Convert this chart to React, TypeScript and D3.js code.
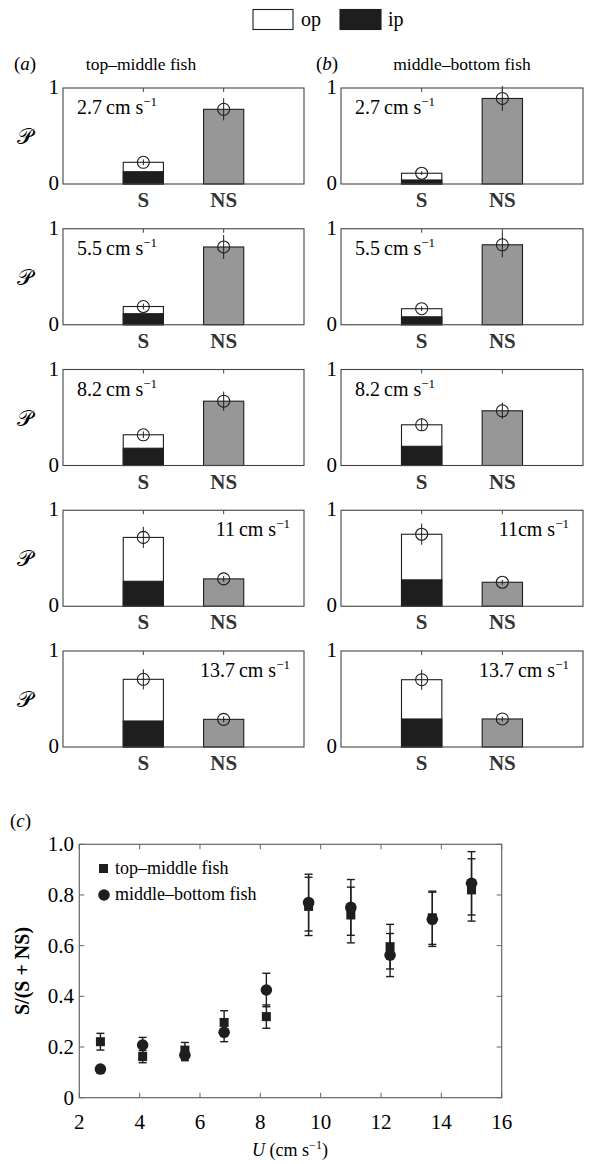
import React from "react";
import * as d3 from "d3";

// ---------- Data ----------
const speedsA = ["2.7", "5.5", "8.2", "11", "13.7"];
const speedsB = ["2.7", "5.5", "8.2", "11", "13.7"];
const barCats = ["S", "NS"];

// top–middle fish (a)
const aS = [0.226, 0.19, 0.32, 0.717, 0.705];
const aIp = [0.128, 0.115, 0.18, 0.26, 0.271];
const aNS = [0.778, 0.81, 0.67, 0.285, 0.288];
const aSErr = [0.03, 0.03, 0.035, 0.11, 0.105];
const aNSErr = [0.115, 0.125, 0.1, 0.03, 0.03];

// middle–bottom fish (b)
const bS = [0.112, 0.167, 0.424, 0.75, 0.701];
const bIp = [0.042, 0.083, 0.2, 0.275, 0.292];
const bNS = [0.891, 0.833, 0.57, 0.25, 0.292];
const bSErr = [0.02, 0.025, 0.065, 0.11, 0.105];
const bNSErr = [0.13, 0.13, 0.085, 0.025, 0.025];

// (c) scatter
const uTM = [2.7, 4.1, 5.5, 6.8, 8.2, 9.6, 11, 12.3, 13.7, 15];
const yTM = [0.221, 0.162, 0.188, 0.297, 0.32, 0.755, 0.721, 0.596, 0.71, 0.82];
const eTM = [0.033, 0.024, 0.03, 0.046, 0.046, 0.115, 0.11, 0.088, 0.105, 0.123];
const uMB = [2.7, 4.1, 5.5, 6.8, 8.2, 9.6, 11, 12.3, 13.7, 15];
const yMB = [0.113, 0.208, 0.168, 0.258, 0.425, 0.77, 0.751, 0.563, 0.704, 0.846];
const eMB = [0.0, 0.03, 0.022, 0.037, 0.066, 0.112, 0.11, 0.085, 0.107, 0.125];
const xTicksC = [2, 4, 6, 8, 10, 12, 14, 16];
const yTicksC = [0, 0.2, 0.4, 0.6, 0.8, 1.0];

const SERIF = "Liberation Serif, Times New Roman, serif";
const DARK = "#1e1e1e";
const GREY = "#979797";

type PanelProps = {
  left: number;
  top: number;
  width: number;
  height: number;
  speed: string;
  labelRight: boolean;
  s: number;
  ip: number;
  ns: number;
  sErr: number;
  nsErr: number;
  showP: boolean;
};

function Panel(p: PanelProps) {
  const x = d3.scaleLinear().domain([0, 3]).range([p.left, p.left + p.width]);
  const y = d3.scaleLinear().domain([0, 1]).range([p.top + p.height, p.top]);
  const bw = x(0.5) - x(0);
  const cx = [x(1), x(2)];
  const num = p.speed.split(" ")[0];
  const hasSpace = p.speed !== "11cm";
  return (
    <g>
      {/* S bar: white total, black ip */}
      <rect x={cx[0] - bw / 2} y={y(p.s)} width={bw} height={y(0) - y(p.s)} fill="#fff" stroke={DARK} strokeWidth={1.1} />
      <rect x={cx[0] - bw / 2} y={y(p.ip)} width={bw} height={y(0) - y(p.ip)} fill={DARK} stroke={DARK} strokeWidth={1.1} />
      {/* NS bar */}
      <rect x={cx[1] - bw / 2} y={y(p.ns)} width={bw} height={y(0) - y(p.ns)} fill={GREY} stroke={DARK} strokeWidth={1.1} />
      {/* error bars + circles */}
      {[
        [cx[0], p.s, p.sErr],
        [cx[1], p.ns, p.nsErr],
      ].map(([c, v, e], i) => (
        <g key={i}>
          <line x1={c} x2={c} y1={y(v + e)} y2={y(v - e)} stroke={DARK} strokeWidth={1} />
          <circle cx={c} cy={y(v)} r={6} fill="none" stroke={DARK} strokeWidth={1.1} />
        </g>
      ))}
      {/* frame */}
      <rect x={p.left} y={p.top} width={p.width} height={p.height} fill="none" stroke="#444" strokeWidth={1.1} />
      {/* top ticks */}
      {cx.map((c, i) => (
        <line key={i} x1={c} x2={c} y1={p.top} y2={p.top + 4} stroke="#444" strokeWidth={1} />
      ))}
      {/* y tick labels */}
      <text x={p.left - 4} y={y(1) + 6} textAnchor="end" fontFamily={SERIF} fontSize={21}>1</text>
      <text x={p.left - 4} y={y(0) + 6} textAnchor="end" fontFamily={SERIF} fontSize={21}>0</text>
      {/* category labels */}
      {barCats.map((c, i) => (
        <text key={c} x={cx[i]} y={y(0) + 23} textAnchor="middle" fontFamily={SERIF} fontWeight="bold" fontSize={21} fill="#333">
          {c}
        </text>
      ))}
      {/* speed label */}
      <text
        x={p.labelRight ? p.left + p.width - 14 : p.left + 14}
        y={p.top + 26}
        textAnchor={p.labelRight ? "end" : "start"}
        fontFamily={SERIF}
        fontSize={20}
      >
        {hasSpace ? num + "\u2009cm s" : "11cm s"}
        <tspan fontSize={13} dy={-8}>{"\u22121"}</tspan>
      </text>
      {p.showP && (
        <text x={17} y={p.top + p.height / 2 + 8} fontFamily="DejaVu Serif, serif" fontSize={22}>
          {"\u{1D4AB}"}
        </text>
      )}
    </g>
  );
}

export default function App() {
  const rowTop = (i: number) => 88 + i * 140.75;
  const ph = 96;

  const xc = d3.scaleLinear().domain([2, 16]).range([79.3, 501.7]);
  const yc = d3.scaleLinear().domain([0, 1]).range([1097.7, 844.3]);
  const capW = 4;

  return (
    <svg width={612} height={1164} style={{ display: "block", position: "absolute", left: 0, top: 0 }}>
      <rect x={0} y={0} width={612} height={1164} fill="#fff" />
      {/* top legend */}
      <rect x={253} y={9.5} width={40} height={20} fill="#fff" stroke={DARK} strokeWidth={1.1} />
      <text x={301} y={26} fontFamily={SERIF} fontSize={20}>op</text>
      <rect x={340} y={9.5} width={41} height={20} fill={DARK} stroke={DARK} strokeWidth={1.1} />
      <text x={388} y={26} fontFamily={SERIF} fontSize={20}>ip</text>

      {/* titles */}
      <text x={14} y={70} fontFamily={SERIF} fontSize={19}>
        (<tspan fontStyle="italic">a</tspan>)
      </text>
      <text x={141} y={70} textAnchor="middle" fontFamily={SERIF} fontSize={17.5}>top–middle fish</text>
      <text x={316} y={70} fontFamily={SERIF} fontSize={19}>
        (<tspan fontStyle="italic">b</tspan>)
      </text>
      <text x={462} y={70} textAnchor="middle" fontFamily={SERIF} fontSize={17.5}>middle–bottom fish</text>

      {speedsA.map((s, i) => (
        <Panel
          key={"a" + i}
          left={63}
          top={rowTop(i)}
          width={241}
          height={ph}
          speed={s}
          labelRight={i >= 3}
          s={aS[i]}
          ip={aIp[i]}
          ns={aNS[i]}
          sErr={aSErr[i]}
          nsErr={aNSErr[i]}
          showP={true}
        />
      ))}
      {speedsB.map((s, i) => (
        <Panel
          key={"b" + i}
          left={341}
          top={rowTop(i)}
          width={242}
          height={ph}
          speed={i === 3 ? "11cm" : s}
          labelRight={i >= 3}
          s={bS[i]}
          ip={bIp[i]}
          ns={bNS[i]}
          sErr={bSErr[i]}
          nsErr={bNSErr[i]}
          showP={false}
        />
      ))}

      {/* (c) */}
      <text x={10} y={827} fontFamily={SERIF} fontSize={19}>
        (<tspan fontStyle="italic">c</tspan>)
      </text>
      <rect x={xc(2)} y={yc(1)} width={xc(16) - xc(2)} height={yc(0) - yc(1)} fill="none" stroke="#666" strokeWidth={1.2} />
      {xTicksC.map((t) => (
        <g key={"xt" + t}>
          <line x1={xc(t)} x2={xc(t)} y1={yc(0)} y2={yc(0) - 5} stroke="#666" />
          <line x1={xc(t)} x2={xc(t)} y1={yc(1)} y2={yc(1) + 5} stroke="#666" />
          <text x={xc(t)} y={1129} textAnchor="middle" fontFamily={SERIF} fontSize={21}>{t}</text>
        </g>
      ))}
      {yTicksC.map((t) => (
        <g key={"yt" + t}>
          <line x1={xc(2)} x2={xc(2) + 5} y1={yc(t)} y2={yc(t)} stroke="#666" />
          <line x1={xc(16)} x2={xc(16) - 5} y1={yc(t)} y2={yc(t)} stroke="#666" />
          <text x={74} y={yc(t) + 7} textAnchor="end" fontFamily={SERIF} fontSize={21}>
            {t === 0 ? "0" : d3.format(".1f")(t)}
          </text>
        </g>
      ))}
      <text x={290} y={1156} textAnchor="middle" fontFamily={SERIF} fontSize={18}>
        <tspan fontStyle="italic">U</tspan>
        {" (cm s"}
        <tspan fontSize={12} dy={-7}>{"\u22121"}</tspan>
        <tspan dy={7}>)</tspan>
      </text>
      <text
        transform={`translate(29, 971) rotate(-90)`}
        textAnchor="middle"
        fontFamily={SERIF}
        fontWeight="bold"
        fontSize={20}
      >
        S/(S + NS)
      </text>

      {/* error bars */}
      {uTM.map((u, i) => (
        <g key={"etm" + i} stroke={DARK} strokeWidth={1.4}>
          <line x1={xc(u)} x2={xc(u)} y1={yc(yTM[i] + eTM[i])} y2={yc(yTM[i] - eTM[i])} />
          <line x1={xc(u) - capW} x2={xc(u) + capW} y1={yc(yTM[i] + eTM[i])} y2={yc(yTM[i] + eTM[i])} />
          <line x1={xc(u) - capW} x2={xc(u) + capW} y1={yc(yTM[i] - eTM[i])} y2={yc(yTM[i] - eTM[i])} />
        </g>
      ))}
      {uMB.map((u, i) =>
        eMB[i] > 0 ? (
          <g key={"emb" + i} stroke={DARK} strokeWidth={1.4}>
            <line x1={xc(u)} x2={xc(u)} y1={yc(yMB[i] + eMB[i])} y2={yc(yMB[i] - eMB[i])} />
            <line x1={xc(u) - capW} x2={xc(u) + capW} y1={yc(yMB[i] + eMB[i])} y2={yc(yMB[i] + eMB[i])} />
            <line x1={xc(u) - capW} x2={xc(u) + capW} y1={yc(yMB[i] - eMB[i])} y2={yc(yMB[i] - eMB[i])} />
          </g>
        ) : null
      )}
      {/* markers */}
      {uTM.map((u, i) => (
        <rect key={"mtm" + i} x={xc(u) - 4.5} y={yc(yTM[i]) - 4.5} width={9} height={9} fill={DARK} />
      ))}
      {uMB.map((u, i) => (
        <circle key={"mmb" + i} cx={xc(u)} cy={yc(yMB[i])} r={5.8} fill={DARK} />
      ))}

      {/* legend (c) */}
      <rect x={99} y={864} width={9} height={9} fill={DARK} />
      <text x={115} y={874} fontFamily={SERIF} fontSize={18}>top–middle fish</text>
      <circle cx={104} cy={895} r={5.8} fill={DARK} />
      <text x={115} y={900} fontFamily={SERIF} fontSize={18}>middle–bottom fish</text>
    </svg>
  );
}
